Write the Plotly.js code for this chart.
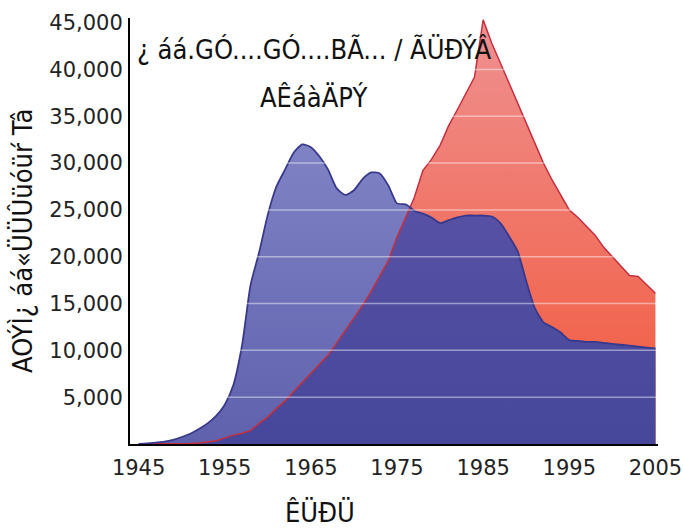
<!DOCTYPE html>
<html>
<head>
<meta charset="utf-8">
<script src="https://cdn.plot.ly/plotly-3.0.1.min.js"></script>
<style>html,body{margin:0;padding:0;background:#fff;}#chart{width:683px;height:530px;}</style>
</head>
<body>
<div id="chart"></div>
<script>
// Years (1976.5 = point where the two curves cross)
const years = [1945,1946,1947,1948,1949,1950,1951,1952,1953,1954,1955,1956,1957,1958,1959,1960,1961,1962,1963,1964,1965,1966,1967,1968,1969,1970,1971,1972,1973,1974,1975,1976,1976.5,1977,1978,1979,1980,1981,1982,1983,1984,1985,1986,1987,1988,1989,1990,1991,1992,1993,1994,1995,1996,1997,1998,1999,2000,2001,2002,2003,2004,2005];
// Blue series
const blueSeries = [0,60,150,250,450,750,1100,1600,2200,3000,4200,6300,10500,17000,20500,24500,27500,29300,31100,32000,31700,30700,29300,27300,26600,27100,28300,29000,28900,27600,25700,25600,25300,24900,24600,24200,23600,23900,24200,24400,24400,24400,24300,23600,22200,20600,17400,14500,13000,12500,11900,11100,11000,10900,10900,10800,10700,10600,10500,10400,10300,10200];
// Red series
const redSeries = [0,0,0,10,20,40,60,100,200,350,650,950,1150,1450,2200,2900,3800,4600,5600,6600,7500,8600,9500,10800,12100,13400,14800,16300,18000,19600,22100,24200,25300,26300,29200,30400,31900,34000,35700,37500,39200,45300,42800,40700,38600,36500,34300,32200,30000,28200,26600,25000,24200,23200,22300,21000,20000,19000,18000,17900,17000,16100];
const crossYear = 1976.5;
const xTickVals = [1945,1955,1965,1975,1985,1995,2005];
const xTickText = ["1945","1955","1965","1975","1985","1995","2005"];
const yTickVals = [5000,10000,15000,20000,25000,30000,35000,40000,45000];
const yTickText = ["5,000","10,000","15,000","20,000","25,000","30,000","35,000","40,000","45,000"];
const gridVals = [5000,10000,15000,20000,25000,30000,35000,40000];
const titleLine1 = "¿ áá.GÓ....GÓ....BÃ... / ÃÜÐÝÂ";
const titleLine2 = "AÊáàÄPÝ";
const yTitle = "AOÝÌ¿ áá«ÜÜÛüóüŕ Tâ";
const xTitle = "ÊÜÐÜ";

const ci = years.indexOf(crossYear);
// overlap region: red series up to the crossing, blue series after it
const overlapX = years.slice(0, ci + 1).concat(years.slice(ci + 1));
const overlapY = redSeries.slice(0, ci + 1).concat(blueSeries.slice(ci + 1));

const narrow = "Liberation Sans Narrow, DejaVu Sans Condensed, Arial Narrow, sans-serif";

const lightBlue = {type:'vertical', start:0, stop:45000, colorscale:[[0,'#5f61ad'],[1,'#8c90cd']]};
const darkBlue = {type:'vertical', start:0, stop:45000, colorscale:[[0,'#46479b'],[1,'#6459ab']]};
const redGrad = {type:'vertical', start:0, stop:45000, colorscale:[[0,'#f2583a'],[1,'#ef9090']]};

const traces = [
  {x: years, y: blueSeries, type:'scatter', mode:'lines', fill:'tozeroy', fillgradient: lightBlue,
   line:{width:0, shape:'spline', smoothing:0.6}, hoverinfo:'skip'},
  {x: years, y: redSeries, type:'scatter', mode:'lines', fill:'tozeroy', fillgradient: redGrad,
   line:{width:0}, hoverinfo:'skip'},
  {x: overlapX, y: overlapY, type:'scatter', mode:'lines', fill:'tozeroy', fillgradient: darkBlue,
   line:{width:0, shape:'spline', smoothing:0.4}, hoverinfo:'skip'},
  {x: years, y: redSeries, type:'scatter', mode:'lines', line:{color:'#c4303e', width:1.5}, hoverinfo:'skip'},
  {x: years, y: blueSeries, type:'scatter', mode:'lines', line:{color:'#38388c', width:1.8, shape:'spline', smoothing:0.6}, hoverinfo:'skip'}
];

const shapes = gridVals.map(v => ({type:'line', xref:'paper', yref:'y', x0:0.006, x1:1, y0:v, y1:v,
  line:{color:'rgba(255,255,255,0.45)', width:1.5}, layer:'above'}));

const py = p => (444 - p) / 426;
const px = p => (p - 130) / 528;

const layout = {
  width:683, height:530,
  margin:{l:130, r:25, t:18, b:86},
  paper_bgcolor:'#fff', plot_bgcolor:'#fff',
  showlegend:false,
  xaxis:{range:[1944,2005.3], tickvals:xTickVals, ticktext:xTickText, showgrid:false, zeroline:false,
    showline:true, linecolor:'#000', linewidth:2, ticks:'', ticklabelstandoff:4, ticklabeloverflow:'allow',
    tickfont:{family:'DejaVu Sans', size:21, color:'#222'}},
  yaxis:{range:[0,45500], tickvals:yTickVals, ticktext:yTickText, showgrid:false, zeroline:false,
    showline:true, linecolor:'#000', linewidth:2, ticks:'', ticklabelstandoff:1,
    tickfont:{family:'DejaVu Sans', size:21, color:'#222'}},
  shapes: shapes,
  annotations:[
    {text:titleLine1, xref:'paper', yref:'paper', x:px(314), y:py(50), showarrow:false,
     font:{family:narrow, size:27, color:'#111'}, xanchor:'center', yanchor:'middle'},
    {text:titleLine2, xref:'paper', yref:'paper', x:px(313), y:py(97), showarrow:false,
     font:{family:narrow, size:27, color:'#111'}, xanchor:'center', yanchor:'middle'},
    {text:yTitle, xref:'paper', yref:'paper', x:px(22), y:py(241), textangle:-90,
     showarrow:false, font:{family:narrow, size:27, color:'#111'}, xanchor:'center', yanchor:'middle'},
    {text:xTitle, xref:'paper', yref:'paper', x:px(320), y:py(512),
     showarrow:false, font:{family:narrow, size:27, color:'#111'}, xanchor:'center', yanchor:'middle'}
  ]
};

Plotly.newPlot('chart', traces, layout, {displayModeBar:false, staticPlot:true});
</script>
</body>
</html>
